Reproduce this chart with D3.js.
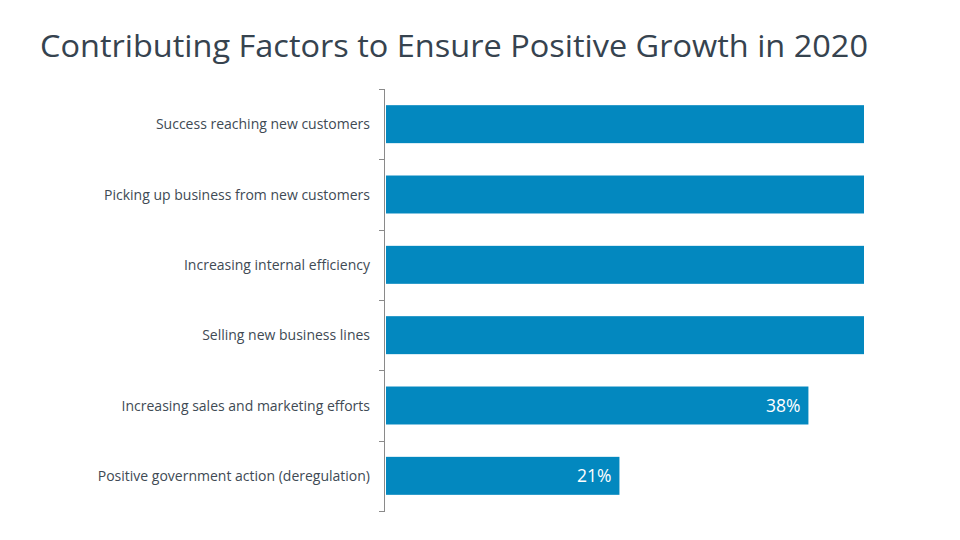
<!DOCTYPE html>
<html><head><meta charset="utf-8">
<script src="https://cdn.jsdelivr.net/npm/d3@7"></script>
<style>body{margin:0;background:#fff}svg{display:block}</style>
</head><body>
<script>
const categories = [
  "Success reaching new customers",
  "Picking up business from new customers",
  "Increasing internal efficiency",
  "Selling new business lines",
  "Increasing sales and marketing efforts",
  "Positive government action (deregulation)"
];
// Top four bars run past the axis maximum in the picture (clipped, no labels shown)
const values = [55, 52, 48, 45, 38, 21];
const axisMax = 43;
const title = "Contributing Factors to Ensure Positive Growth in 2020";

const W = 960, H = 540;
const svg = d3.select("body").append("svg").attr("width", W).attr("height", H);

svg.append("text").attr("x", 40).attr("y", 57)
  .attr("font-family", "'Open Sans', sans-serif").attr("font-weight", 400)
  .attr("font-size", 31).attr("fill", "#36434f")
  .attr("textLength", 828).attr("lengthAdjust", "spacingAndGlyphs")
  .text(title);

const x = d3.scaleLinear().domain([0, axisMax]).range([386, 864]).clamp(true);
const y = d3.scaleBand().domain(categories).range([89, 511]).paddingInner(0.46).paddingOuter(0.23);

svg.selectAll("rect.bar").data(categories).join("rect").attr("class", "bar")
  .attr("x", x(0)).attr("y", d => y(d))
  .attr("width", (d, i) => x(values[i]) - x(0))
  .attr("height", y.bandwidth()).attr("fill", "#0388bf");

svg.selectAll("text.val").data(categories.filter((d, i) => values[i] <= axisMax)).join("text")
  .attr("class", "val")
  .attr("x", d => x(values[categories.indexOf(d)]) - 8)
  .attr("y", d => y(d) + y.bandwidth() / 2 + 6.5)
  .attr("text-anchor", "end").attr("fill", "#fff")
  .attr("font-family", "'Open Sans', sans-serif").attr("font-size", 17.5)
  .text(d => values[categories.indexOf(d)] + "%");

// axis
const yTicks = d3.range(categories.length + 1).map(i => 89 + i * (511 - 89) / categories.length);
svg.append("line").attr("x1", 384.5).attr("x2", 384.5).attr("y1", 89).attr("y2", 511)
  .attr("stroke", "#8a8a8a").attr("stroke-width", 1);
svg.selectAll("line.tick").data(yTicks).join("line").attr("class", "tick")
  .attr("x1", 379).attr("x2", 385).attr("y1", d => Math.round(d) + 0.5).attr("y2", d => Math.round(d) + 0.5)
  .attr("stroke", "#8a8a8a");

svg.selectAll("text.cat").data(categories).join("text").attr("class", "cat")
  .attr("x", 370).attr("y", d => y(d) + y.bandwidth() / 2 + 5)
  .attr("text-anchor", "end").attr("fill", "#404a54")
  .attr("font-family", "'Open Sans', sans-serif").attr("font-size", 14)
  .text(d => d);
</script>
</body></html>
